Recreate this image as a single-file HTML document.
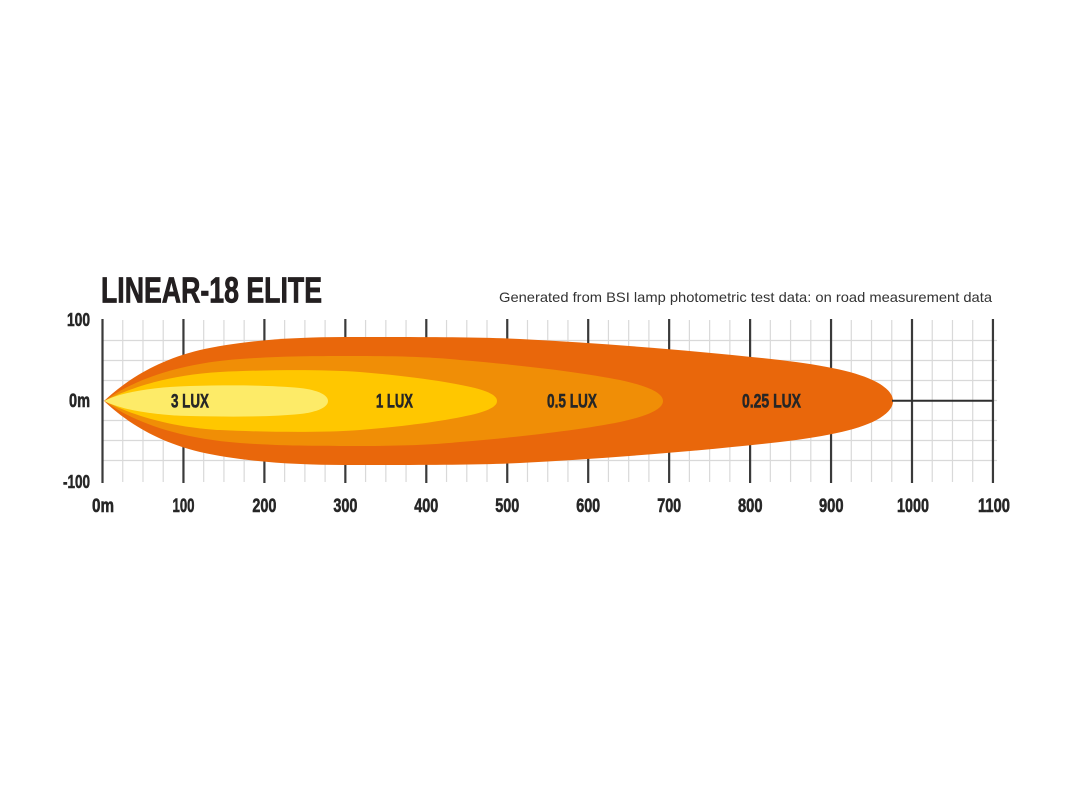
<!DOCTYPE html>
<html>
<head>
<meta charset="utf-8">
<style>
  html, body { margin: 0; padding: 0; background: #ffffff; }
  svg { display: block; }
  .c { font-family: "Liberation Sans", "DejaVu Sans", sans-serif; font-weight: bold; fill: #262626; stroke: #262626; stroke-width: 0.55; }
</style>
</head>
<body>
<svg width="1067" height="800" viewBox="0 0 1067 800" xmlns="http://www.w3.org/2000/svg">
  <rect width="1067" height="800" fill="#ffffff"/>

  <!-- minor vertical grid -->
  <path stroke="#d9d9d9" stroke-width="1.2" fill="none" d="
    M122.74,320V482 M142.98,320V482 M163.21,320V482
    M203.69,320V482 M223.93,320V482 M244.16,320V482
    M284.64,320V482 M304.88,320V482 M325.11,320V482
    M365.59,320V482 M385.83,320V482 M406.06,320V482
    M446.54,320V482 M466.78,320V482 M487.01,320V482
    M527.49,320V482 M547.73,320V482 M567.96,320V482
    M608.44,320V482 M628.68,320V482 M648.91,320V482
    M689.39,320V482 M709.63,320V482 M729.86,320V482
    M770.34,320V482 M790.58,320V482 M810.81,320V482
    M851.29,320V482 M871.53,320V482 M891.76,320V482
    M932.24,320V482 M952.48,320V482 M972.71,320V482"/>
  <!-- horizontal grid -->
  <path stroke="#d9d9d9" stroke-width="1.2" fill="none" d="
    M102,340.5H997 M102,360.5H997 M102,380.5H997 M102,400.5H997
    M102,420.5H997 M102,440.5H997 M102,460.5H997"/>
  <!-- major vertical lines -->
  <path stroke="#3a3a3a" stroke-width="2.2" fill="none" d="
    M102.5,319V483 M183.45,319V483 M264.4,319V483 M345.35,319V483
    M426.3,319V483 M507.25,319V483 M588.2,319V483 M669.15,319V483
    M750.1,319V483 M831.05,319V483 M912,319V483 M992.95,319V483"/>

  <!-- beam layers -->
  <path fill="#e9670b" d="M104,401 C120,386 150,362 200,350 C240,341 290,337 345,337 C420,337 480,337 520,339 C600,343 700,351 780,360 C830,366 862,373 880,384 C889,390 893,395 893,401 C893,407 889,412 880,418 C862,429 830,436 780,442 C700,451 600,459 520,463 C480,465 420,465 345,465 C290,465 240,461 200,452 C150,440 120,416 104,401 Z"/>
  <path fill="#f08e06" d="M105,401 C125,385 170,364 240,359 C280,356 320,356 350,356 C400,356 430,357 460,360 C520,365 580,372 620,380 C648,386 663,393 663,401 C663,409 648,416 620,422 C580,430 520,437 460,442 C430,445 400,446 350,446 C320,446 280,446 240,443 C170,438 125,417 105,401 Z"/>
  <path fill="#ffc700" d="M105,401 C125,390 165,375 220,372 C260,370 320,369 360,372 C410,376 450,382 475,388 C490,392 497,396 497,401 C497,406 490,410 475,414 C450,420 410,426 360,430 C320,433 260,432 220,430 C165,427 125,412 105,401 Z"/>
  <path fill="#fdeb68" d="M104,401 C120,393 150,387 190,386 C230,385 270,385 300,388 C318,390 328,395 328,401 C328,407 318,412 300,414 C270,417 230,417 190,416 C150,415 120,409 104,401 Z"/>

  <!-- center line beyond beam -->
  <path stroke="#2e2e2e" stroke-width="2" fill="none" d="M892,400.7H993"/>

  <!-- lux labels -->
  <text class="c" x="171" y="407.5" font-size="19.5" textLength="38" lengthAdjust="spacingAndGlyphs">3 LUX</text>
  <text class="c" x="376" y="407.5" font-size="19.5" textLength="37" lengthAdjust="spacingAndGlyphs">1 LUX</text>
  <text class="c" x="547" y="407.5" font-size="19.5" textLength="50" lengthAdjust="spacingAndGlyphs">0.5 LUX</text>
  <text class="c" x="742" y="407.5" font-size="19.5" textLength="59" lengthAdjust="spacingAndGlyphs">0.25 LUX</text>

  <!-- title -->
  <text class="c" x="101" y="302.5" font-size="36" textLength="221" lengthAdjust="spacingAndGlyphs" style="fill:#231f20;stroke:#231f20;stroke-width:0.8">LINEAR-18 ELITE</text>
  <!-- subtitle -->
  <text x="499" y="302" font-family="'Liberation Sans', 'DejaVu Sans', sans-serif" font-size="14" fill="#333333" textLength="493" lengthAdjust="spacingAndGlyphs">Generated from BSI lamp photometric test data: on road measurement data</text>

  <!-- left axis labels -->
  <text class="c" x="90" y="326" font-size="18" text-anchor="end" textLength="23" lengthAdjust="spacingAndGlyphs">100</text>
  <text class="c" x="90" y="407" font-size="19" text-anchor="end" textLength="21" lengthAdjust="spacingAndGlyphs">0m</text>
  <text class="c" x="90" y="488" font-size="18" text-anchor="end" textLength="27" lengthAdjust="spacingAndGlyphs">-100</text>

  <!-- bottom axis labels -->
  <text class="c" x="92" y="512" font-size="19.5" textLength="22" lengthAdjust="spacingAndGlyphs">0m</text>
  <text class="c" x="172.5" y="512" font-size="19.5" textLength="22" lengthAdjust="spacingAndGlyphs">100</text>
  <text class="c" x="252.4" y="512" font-size="19.5" textLength="24" lengthAdjust="spacingAndGlyphs">200</text>
  <text class="c" x="333.4" y="512" font-size="19.5" textLength="24" lengthAdjust="spacingAndGlyphs">300</text>
  <text class="c" x="414.3" y="512" font-size="19.5" textLength="24" lengthAdjust="spacingAndGlyphs">400</text>
  <text class="c" x="495.3" y="512" font-size="19.5" textLength="24" lengthAdjust="spacingAndGlyphs">500</text>
  <text class="c" x="576.2" y="512" font-size="19.5" textLength="24" lengthAdjust="spacingAndGlyphs">600</text>
  <text class="c" x="657.2" y="512" font-size="19.5" textLength="24" lengthAdjust="spacingAndGlyphs">700</text>
  <text class="c" x="738" y="512" font-size="19.5" textLength="24.5" lengthAdjust="spacingAndGlyphs">800</text>
  <text class="c" x="819" y="512" font-size="19.5" textLength="24.5" lengthAdjust="spacingAndGlyphs">900</text>
  <text class="c" x="897" y="512" font-size="19.5" textLength="32" lengthAdjust="spacingAndGlyphs">1000</text>
  <text class="c" x="978" y="512" font-size="19.5" textLength="32" lengthAdjust="spacingAndGlyphs">1100</text>
</svg>
</body>
</html>
